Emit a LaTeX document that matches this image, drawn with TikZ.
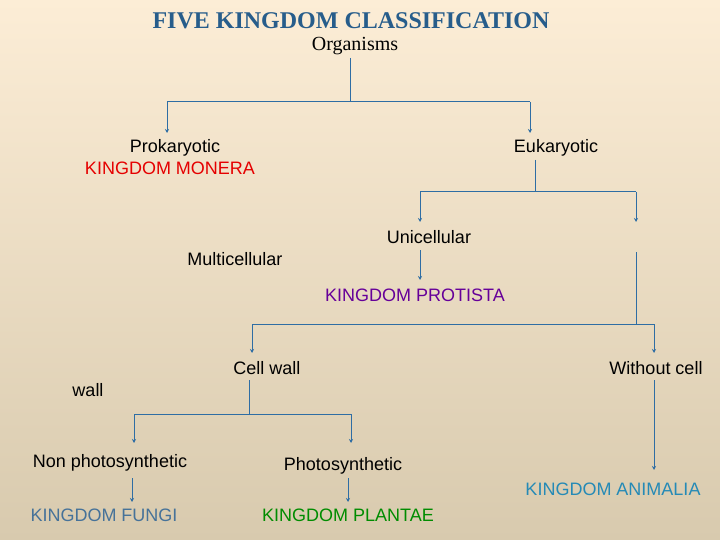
\documentclass[tikz,border=0pt]{standalone}
\usepackage{fontspec}
\setmainfont{Liberation Sans}
\newfontfamily\ser{Liberation Serif}
\usetikzlibrary{arrows.meta}
\definecolor{ln}{HTML}{2E6DA4}
\definecolor{bgt}{HTML}{FCEDD6}
\definecolor{bgb}{HTML}{D8CAAE}
\tikzset{lbl/.style={font=\fontsize{18}{20}\selectfont, inner sep=0pt},
 con/.style={draw=ln, line width=1pt},
 arr/.style={con, -{Stealth[length=4pt,width=4pt]}}}
\begin{document}
\begin{tikzpicture}[x=1pt,y=-1pt]
\shade[top color=bgt, bottom color=bgb] (0,0) rectangle (720,540);
\useasboundingbox (0,0) rectangle (720,540);
\node[font=\ser\bfseries\fontsize{24}{26}\selectfont, text=ln!85!black, inner sep=0pt] (title) at (351,21) {FIVE KINGDOM CLASSIFICATION};
\node[font=\ser\fontsize{20}{22}\selectfont, inner sep=0pt] (org) at (355,46) {Organisms};
\node[lbl] (pro) at (175,148) {Prokaryotic};
\node[lbl, text=red!90!black] (mon) at (170,168) {KINGDOM MONERA};
\node[lbl] (euk) at (556,148) {Eukaryotic};
\node[lbl] (uni) at (429,237) {Unicellular};
\node[lbl] (mul) at (235,259) {Multicellular};
\node[lbl, text=violet!80!blue] (pst) at (415,295) {KINGDOM PROTISTA};
\node[lbl] (cw) at (267,368) {Cell wall};
\node[lbl] (wc) at (656,368) {Without cell};
\node[lbl] (wall) at (88,390) {wall};
\node[lbl] (nps) at (110,463) {Non photosynthetic};
\node[lbl] (ps) at (343,466) {Photosynthetic};
\node[lbl, text=ln!70!gray] (fun) at (104,515) {KINGDOM FUNGI};
\node[lbl, text=green!55!black] (pla) at (348,515) {KINGDOM PLANTAE};
\node[lbl, text=ln!80!cyan] (ani) at (613,489) {KINGDOM ANIMALIA};
% connectors
\coordinate (o1) at (350,58); \coordinate (o2) at (350,102);
\coordinate (pL) at (167,102); \coordinate (pR) at (530,102);
\draw[con] (o1) -- (o2) (pL) -- (pR);
\draw[arr] (pL) -- (167,133);
\draw[arr] (pR) -- (530,133);
\coordinate (e1) at (535,160); \coordinate (e2) at (535,192);
\coordinate (eL) at (420,192); \coordinate (eR) at (636,192);
\draw[con] (e1) -- (e2) (eL) -- (eR);
\draw[arr] (eL) -- (420,222);
\draw[arr] (eR) -- (636,222);
\draw[arr] (420,250) -- (420,280);
\coordinate (m1) at (636,252); \coordinate (m2) at (636,324);
\coordinate (mL) at (252,324); \coordinate (mR) at (654,324);
\draw[con] (m1) -- (m2) (mL) -- (mR);
\draw[arr] (mL) -- (252,353);
\draw[arr] (mR) -- (654,353);
\coordinate (c1) at (249,380); \coordinate (c2) at (249,414);
\coordinate (cL) at (134,414); \coordinate (cR) at (351,414);
\draw[con] (c1) -- (c2) (cL) -- (cR);
\draw[arr] (cL) -- (134,443);
\draw[arr] (cR) -- (351,443);
\draw[arr] (132,478) -- (132,502);
\draw[arr] (348,478) -- (348,502);
\draw[arr] (654,380) -- (654,470);
\end{tikzpicture}
\end{document}
